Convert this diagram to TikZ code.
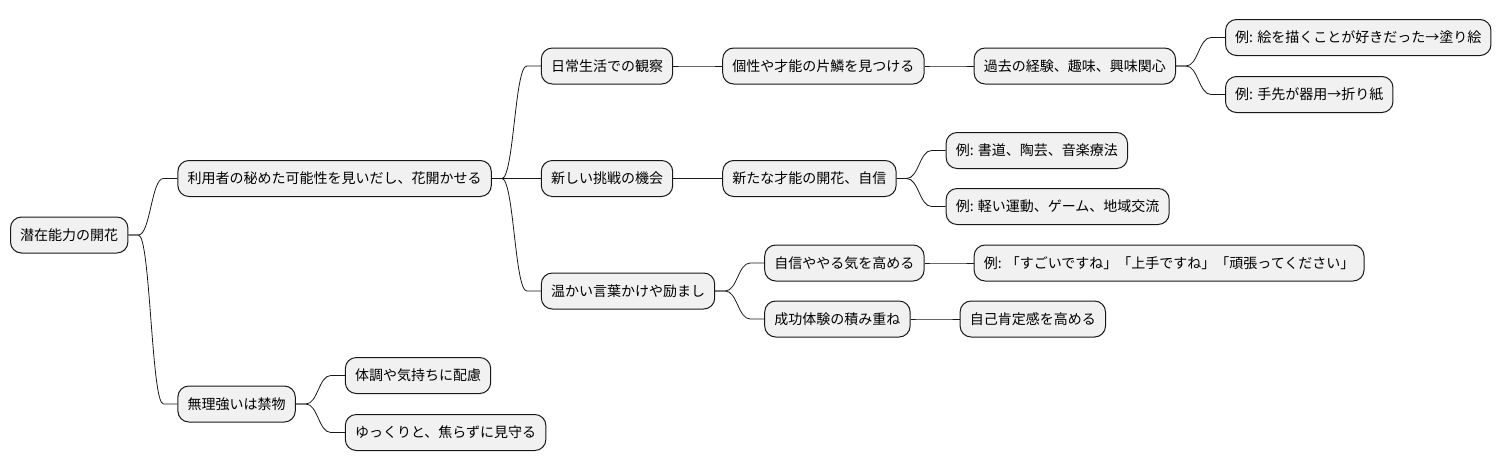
\documentclass[tikz,border=0pt]{standalone}
\usepackage{fontspec}
\setmainfont{Noto Sans CJK JP}
\usepackage{tikz}
\usetikzlibrary{positioning}
\definecolor{nodegray}{RGB}{241,241,241}
\definecolor{edgeblack}{RGB}{24,24,24}

\begin{document}
\begin{tikzpicture}[x=1pt,y=-1pt,
        idea/.style={draw=edgeblack, line width=1pt, fill=nodegray, rounded corners=11pt,
            minimum height=36pt, inner xsep=9.7pt, inner ysep=0pt, font=\fontsize{14}{16}\selectfont},
        branch/.style={draw=edgeblack, line width=0.8pt,
            to path={-- ++(10,0) .. controls +(12,0) and +(-12,0) .. ([xshift=-14pt]\tikztotarget) -- (\tikztotarget)}}]
            \useasboundingbox (0,0) rectangle (1503,471);

            \node[idea, anchor=west] (root) at (10,235) {潜在能力の開花};
            \node[idea, right=49pt of root, yshift=56.5pt] (use) {利用者の秘めた可能性を見いだし、花開かせる};
            \node[idea, right=49pt of root, yshift=-169pt] (calm) {無理強いは禁物};

            \node[idea, right=49pt of use, yshift=112.5pt] (obs) {日常生活での観察};
            \node[idea, right=49pt of use] (chal) {新しい挑戦の機会};
            \node[idea, right=49pt of use, yshift=-112.5pt] (warm) {温かい言葉かけや励まし};

            \node[idea, right=49pt of obs] (spark) {個性や才能の片鱗を見つける};
            \node[idea, right=49pt of spark] (past) {過去の経験、趣味、興味関心};
            \node[idea, right=49pt of past, yshift=28.5pt] (paint) {例: 絵を描くことが好きだった→塗り絵};
            \node[idea, right=49pt of past, yshift=-28.5pt] (fold) {例: 手先が器用→折り紙};

            \node[idea, right=49pt of chal] (bloom) {新たな才能の開花、自信};
            \node[idea, right=49pt of bloom, yshift=28pt] (arts) {例: 書道、陶芸、音楽療法};
            \node[idea, right=49pt of bloom, yshift=-28pt] (local) {例: 軽い運動、ゲーム、地域交流};

            \node[idea, right=49pt of warm, yshift=28pt] (motiv) {自信ややる気を高める};
            \node[idea, right=49pt of warm, yshift=-28pt] (succ) {成功体験の積み重ね};
            \node[idea, right=49pt of motiv] (praise) {例: 「すごいですね」「上手ですね」「頑張ってください」};
            \node[idea, right=49pt of succ] (esteem) {自己肯定感を高める};

            \node[idea, right=49pt of calm, yshift=28.5pt] (care) {体調や気持ちに配慮};
            \node[idea, right=49pt of calm, yshift=-28.5pt] (watch) {ゆっくりと、焦らずに見守る};

            % branches
            \foreach \a/\b in {root/use, root/calm, use/obs, use/chal, use/warm,
                    obs/spark, spark/past, past/paint, past/fold,
                    chal/bloom, bloom/arts, bloom/local,
                    warm/motiv, warm/succ, motiv/praise, succ/esteem,
                    calm/care, calm/watch}
                \draw[branch] (\a.east) to (\b.west);
        \end{tikzpicture}
\end{document}
